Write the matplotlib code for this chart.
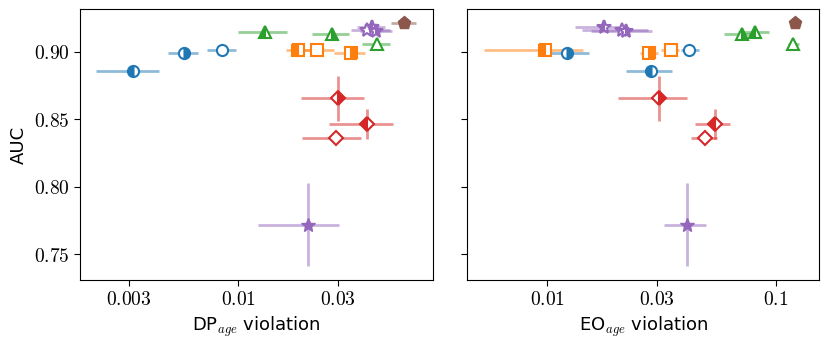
import numpy as np
import matplotlib
matplotlib.use("Agg")
import matplotlib.pyplot as plt
from matplotlib.ticker import FixedLocator, FixedFormatter, NullLocator

plt.rcParams['mathtext.fontset'] = 'cm'
plt.rcParams['font.family'] = ['DejaVu Sans']

# ---- data (one entry per model variant) ----
colors = ['#1f77b4', '#1f77b4', '#1f77b4',
          '#ff7f0e', '#ff7f0e', '#ff7f0e',
          '#2ca02c', '#2ca02c', '#2ca02c',
          '#d62728', '#d62728', '#d62728',
          '#9467bd', '#9467bd', '#9467bd', '#9467bd',
          '#8c564b']
markers = ['o', 'o', 'o', 's', 's', 's', '^', '^', '^',
           'D', 'D', 'D', '*', '*', '*', '*', 'p']
fills = ['left', 'right', 'none', 'left', 'none', 'right',
         'left', 'right', 'none', 'right', 'left', 'none',
         'left', 'none', 'right', 'full', 'full']

auc = [0.8854, 0.8994, 0.9013, 0.9013, 0.9016, 0.8991,
       0.9149, 0.9134, 0.9057, 0.8656, 0.8465, 0.8362,
       0.9185, 0.9158, 0.9150, 0.7720, 0.9210]
auc_err = [0.001, 0.001, 0.001, 0.001, 0.001, 0.001,
           0.001, 0.001, 0.001, 0.0166, 0.0108, 0.003,
           0.001, 0.001, 0.001, 0.031, 0.001]

dp = [0.00314, 0.00551, 0.00834, 0.01928, 0.0236, 0.0343,
      0.01341, 0.02801, 0.04577, 0.0299, 0.0412, 0.0294,
      0.0433, 0.0410, 0.0453, 0.0216, 0.0618]
dp_lo = [0.00209, 0.00462, 0.00705, 0.0168, 0.0196, 0.0286,
         0.00997, 0.02258, 0.03897, 0.0200, 0.0271, 0.0201,
         0.0367, 0.0344, 0.0380, 0.01246, 0.0534]
dp_hi = [0.00418, 0.00638, 0.00968, 0.0232, 0.0286, 0.0401,
         0.01697, 0.03365, 0.0532, 0.0398, 0.0548, 0.0384,
         0.0500, 0.0528, 0.0540, 0.0302, 0.0705]

eo = [0.02845, 0.01218, 0.04153, 0.00973, 0.0348, 0.02779,
      0.0812, 0.0711, 0.1187, 0.0306, 0.0538, 0.0490,
      0.01762, 0.02118, 0.02213, 0.0407, 0.1215]
eo_lo = [0.0221, 0.0104, 0.0385, 0.00527, 0.0315, 0.0253,
         0.0680, 0.0589, 0.1124, 0.02034, 0.0443, 0.0423,
         0.01316, 0.01422, 0.01556, 0.0323, 0.1180]
eo_hi = [0.0350, 0.01515, 0.0458, 0.0143, 0.0378, 0.0304,
         0.0929, 0.0830, 0.1265, 0.0407, 0.0630, 0.0553,
         0.0214, 0.0275, 0.02874, 0.0493, 0.1250]

left_ticks = [0.003, 0.01, 0.03]
left_ticklabels = ['0.003', '0.01', '0.03']
right_ticks = [0.01, 0.03, 0.1]
right_ticklabels = ['0.01', '0.03', '0.1']
y_ticks = [0.75, 0.80, 0.85, 0.90]
y_ticklabels = ['0.75', '0.80', '0.85', '0.90']

fig = plt.figure(figsize=(8.3, 3.45), dpi=100)
axL = fig.add_axes([0.0964, 0.1884, 0.4249, 0.7855])
axR = fig.add_axes([0.563, 0.1884, 0.4241, 0.7855])


def draw(ax, xs, xlo, xhi):
    for i in range(len(auc)):
        c = colors[i]
        ax.errorbar([xs[i]], [auc[i]],
                    xerr=[[xs[i] - xlo[i]], [xhi[i] - xs[i]]],
                    yerr=[[auc_err[i]], [auc_err[i]]],
                    fmt='none', ecolor=c, alpha=0.5, elinewidth=2,
                    capsize=0, zorder=2)
        m = markers[i]
        ms = {'*': 10, 'p': 9.5, 'D': 7}.get(m, 8)
        if fills[i] == 'none':
            ax.plot([xs[i]], [auc[i]], marker=m, ms=ms,
                    mfc='white', mec=c, mew=1.5, ls='none', zorder=3)
        elif fills[i] == 'full':
            ax.plot([xs[i]], [auc[i]], marker=m, ms=ms,
                    mfc=c, mec=c, mew=1.0, ls='none', zorder=3)
        else:
            ax.plot([xs[i]], [auc[i]], marker=m, ms=ms,
                    fillstyle=fills[i], mfc=c, markerfacecoloralt='white',
                    mec=c, mew=1.5, ls='none', zorder=3)


draw(axL, dp, dp_lo, dp_hi)
draw(axR, eo, eo_lo, eo_hi)

for ax, xl, ticks, labels, lab in [
        (axL, (0.00175, 0.0847), left_ticks, left_ticklabels, 'DP'),
        (axR, (0.00446, 0.1545), right_ticks, right_ticklabels, 'EO')]:
    ax.set_xscale('log')
    ax.set_xlim(*xl)
    ax.set_ylim(0.731, 0.9316)
    ax.xaxis.set_major_locator(FixedLocator(ticks))
    ax.xaxis.set_major_formatter(FixedFormatter(['$%s$' % t for t in labels]))
    ax.xaxis.set_minor_locator(NullLocator())
    ax.yaxis.set_major_locator(FixedLocator(y_ticks))
    ax.yaxis.set_minor_locator(NullLocator())
    ax.tick_params(labelsize=14, length=4)
    ax.set_xlabel(lab + r'$_{age}$ violation', fontsize=13, labelpad=4)

axL.yaxis.set_major_formatter(FixedFormatter(['$%s$' % t for t in y_ticklabels]))
axR.set_yticklabels([])
axL.set_ylabel('AUC', fontsize=13)

fig.savefig('out.png', dpi=100)
